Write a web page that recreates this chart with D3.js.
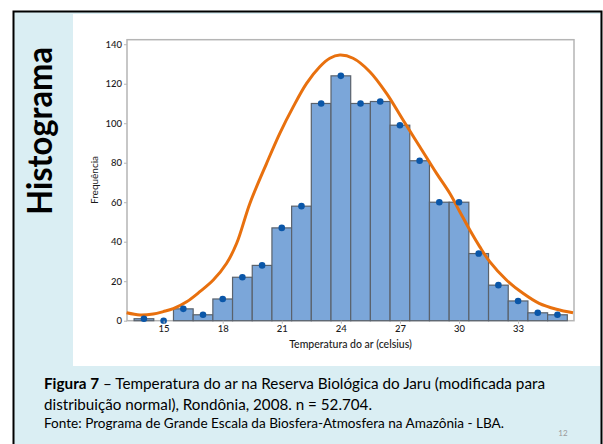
<!DOCTYPE html>
<html>
<head>
<meta charset="utf-8">
<script src="https://cdn.jsdelivr.net/npm/d3@7"></script>
<style>
  html, body { margin: 0; padding: 0; background: #fff; }
  svg { display: block; }
</style>
</head>
<body>
<svg id="slide" width="603" height="444"></svg>
<script>
'use strict';

/* Histogram of air temperature (Jaru) with a fitted curve */

// bins are 1 °C wide, centred on the integers
const binCenters = [14, 15, 16, 17, 18, 19, 20, 21, 22, 23, 24, 25, 26, 27, 28, 29, 30, 31, 32, 33, 34, 35];
const counts     = [1, 0, 6, 3, 11, 22, 28, 47, 58, 110, 124, 110, 111, 99, 81, 60, 60, 34, 18, 10, 4, 3];

// fitted curve
const fitX = [13.12, 13.80, 14.47, 14.98, 15.49, 16.17, 16.84, 17.52, 18.20, 18.71, 19.38, 20.23, 20.90,
              21.58, 22.26, 22.93, 23.44, 23.95, 24.62, 25.47, 26.32, 27.16, 28.01, 28.86, 29.53, 30.04,
              30.55, 31.05, 31.56, 32.41, 33.25, 34.07, 34.95, 35.79];
const fitY = [4.0, 2.9, 3.4, 4.6, 6.1, 9.6, 14.7, 20.6, 29.1, 39.2, 59.4, 79.7, 94.9,
              108.3, 120.2, 128.6, 132.9, 134.5, 132.9, 126.1, 115.1, 101.6, 88.1, 74.6, 64.5, 55.2,
              45.9, 37.5, 29.9, 20.6, 13.9, 8.8, 5.8, 4.0];

const xTicks = [15, 18, 21, 24, 27, 30, 33];
const yTicks = [0, 20, 40, 60, 80, 100, 120, 140];

const slideTitle = 'Histograma';
const xTitle = 'Temperatura do ar (celsius)';
const yTitle = 'Frequência';
const captionLines = [
  ['Figura 7', ' – Temperatura do ar na Reserva Biológica do Jaru (modificada para'],
  ['', 'distribuição normal), Rondônia, 2008. n = 52.704.'],
];
const captionWidths = [501, 328];   // line lengths measured on the slide
const sourceLine = 'Fonte: Programa de Grande Escala da Biosfera-Atmosfera na Amazônia - LBA.';
const pageNo = '12';

const FONT = 'Lato, "Open Sans", sans-serif';
const COL = {
  page:  '#daeef3',
  bar:   '#7ba6d9',
  barLn: '#5a626c',
  dot:   '#0a56a8',
  fit:   '#e8700e',
  frame: '#b5b5b5',
  text:  '#1a1a1a',
};

const svg = d3.select('#slide');

// slide background + frame
svg.append('rect').attr('x', 0).attr('y', 0).attr('width', 603).attr('height', 444).attr('fill', '#fff');
svg.append('rect')
  .attr('x', 13.5).attr('y', 11.5).attr('width', 588).attr('height', 440)
  .attr('fill', COL.page).attr('stroke', '#000').attr('stroke-width', 2);
svg.append('rect')
  .attr('x', 73).attr('y', 14).attr('width', 527).attr('height', 352)
  .attr('fill', '#fff');

// vertical slide title
svg.append('text')
  .attr('transform', 'translate(52,215) rotate(-90)')
  .attr('font-family', FONT).attr('font-weight', 700).attr('font-size', 34)
  .attr('fill', '#000')
  .attr('textLength', 168).attr('lengthAdjust', 'spacingAndGlyphs')
  .text(slideTitle);

/* ── plot ─────────────────────────────────────────────── */
const x = d3.scaleLinear().domain([13.14, 35.84]).range([127, 574]);
const y = d3.scaleLinear().domain([0, 142.3]).range([320.7, 39.7]);

const plot = svg.append('g');

plot.append('rect')
  .attr('x', x.range()[0]).attr('y', y.range()[1])
  .attr('width', x.range()[1] - x.range()[0])
  .attr('height', y.range()[0] - y.range()[1])
  .attr('fill', '#fff').attr('stroke', COL.frame).attr('stroke-width', 1.5);

// bars
plot.append('g').selectAll('rect')
  .data(binCenters.map((c, i) => ({ c, n: counts[i] })).filter(d => d.n > 0))
  .enter().append('rect')
  .attr('x', d => x(d.c - 0.5))
  .attr('y', d => y(d.n))
  .attr('width', d => x(d.c + 0.5) - x(d.c - 0.5))
  .attr('height', d => y(0) - y(d.n))
  .attr('fill', COL.bar).attr('stroke', COL.barLn).attr('stroke-width', 1.2);

// fitted curve
const line = d3.line()
  .x(d => x(d[0])).y(d => y(d[1]))
  .curve(d3.curveCatmullRom.alpha(0.5));
plot.append('path')
  .datum(fitX.map((v, i) => [v, fitY[i]]))
  .attr('d', line)
  .attr('fill', 'none').attr('stroke', COL.fit).attr('stroke-width', 3);

// dots at bar tops
plot.append('g').selectAll('circle')
  .data(binCenters.map((c, i) => ({ c, n: counts[i] })))
  .enter().append('circle')
  .attr('cx', d => x(d.c)).attr('cy', d => y(d.n)).attr('r', 3.3)
  .attr('fill', COL.dot);

// axes
const xAxis = plot.append('g')
  .attr('transform', `translate(0,${y.range()[0]})`)
  .call(d3.axisBottom(x).tickValues(xTicks).tickSize(3).tickPadding(2));
const yAxis = plot.append('g')
  .attr('transform', `translate(${x.range()[0]},0)`)
  .call(d3.axisLeft(y).tickValues(yTicks).tickSize(3).tickPadding(2));

[xAxis, yAxis].forEach(ax => {
  ax.select('.domain').remove();
  ax.selectAll('line').attr('stroke', COL.frame);
  ax.selectAll('text')
    .attr('font-family', FONT).attr('font-size', 9.5).attr('font-weight', 500).attr('fill', COL.text);
});

svg.append('text')
  .attr('x', (x.range()[0] + x.range()[1]) / 2).attr('y', 348)
  .attr('text-anchor', 'middle')
  .attr('font-family', FONT).attr('font-size', 10.5).attr('font-weight', 500).attr('fill', COL.text)
  .text(xTitle);

svg.append('text')
  .attr('transform', 'translate(98,180) rotate(-90)')
  .attr('text-anchor', 'middle')
  .attr('font-family', FONT).attr('font-size', 10).attr('fill', COL.text)
  .text(yTitle);

/* ── caption ──────────────────────────────────────────── */
captionLines.forEach((parts, i) => {
  const t = svg.append('text')
    .attr('x', 44).attr('y', 389 + i * 20.5)
    .attr('font-family', FONT).attr('font-size', 15).attr('fill', '#000')
    .attr('textLength', captionWidths[i]).attr('lengthAdjust', 'spacingAndGlyphs');
  if (parts[0]) t.append('tspan').attr('font-weight', 700).text(parts[0]);
  t.append('tspan').text(parts[1]);
});

svg.append('text')
  .attr('x', 44).attr('y', 428)
  .attr('font-family', FONT).attr('font-size', 13).attr('fill', '#000')
  .attr('textLength', 460).attr('lengthAdjust', 'spacingAndGlyphs')
  .text(sourceLine);

svg.append('text')
  .attr('x', 563).attr('y', 436).attr('text-anchor', 'middle')
  .attr('font-family', FONT).attr('font-size', 8).attr('fill', '#9a9a9a')
  .text(pageNo);
</script>
</body>
</html>
